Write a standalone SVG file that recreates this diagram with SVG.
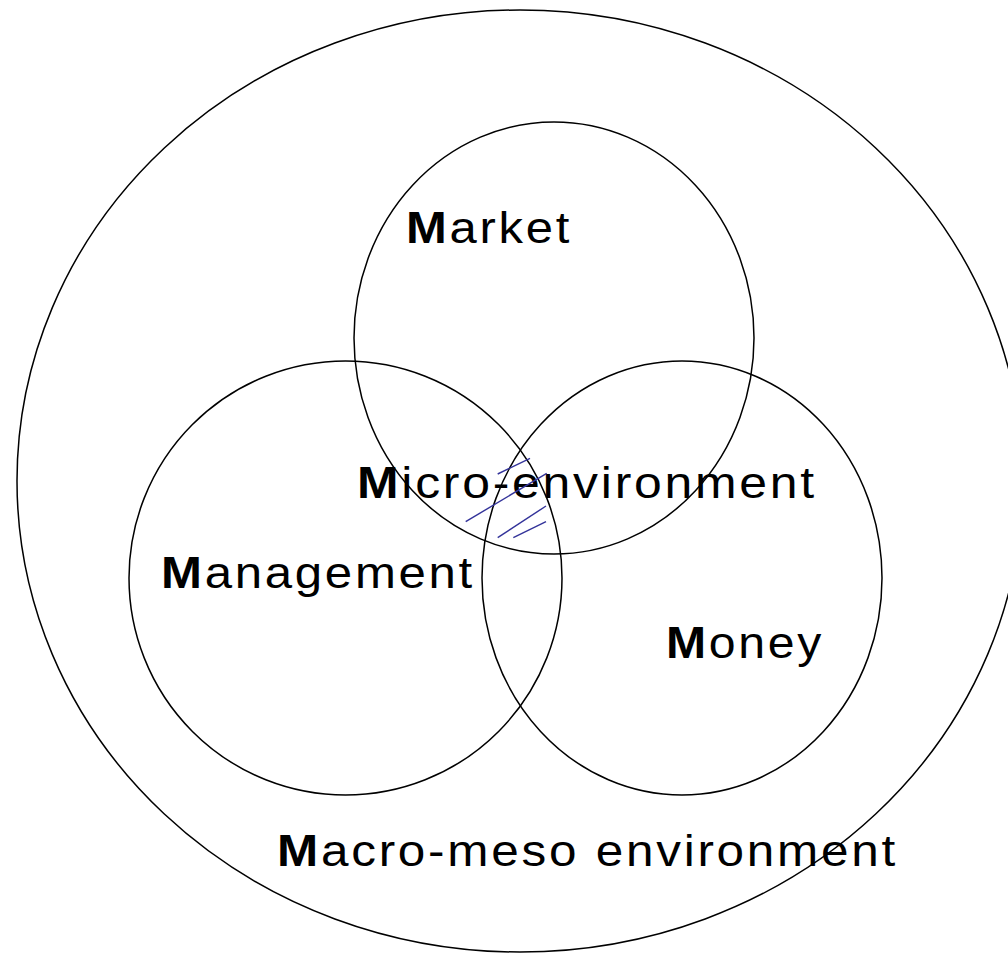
<svg xmlns="http://www.w3.org/2000/svg" width="1008" height="953" viewBox="0 0 1008 953">
<style>
.c{fill:none;stroke:#000;stroke-width:1.5}
.t{font-family:"Liberation Sans",Arial,sans-serif;font-size:45px;fill:#000;letter-spacing:2.5px}
.b{font-weight:bold}
.h{stroke:#33339a;stroke-width:1.4;fill:none}
</style>
<rect width="1008" height="953" fill="#fff"/>
<g id="macro">
<ellipse class="c" cx="520" cy="481" rx="503" ry="471"/>
<text class="t" x="277" y="866" textLength="621" lengthAdjust="spacingAndGlyphs"><tspan class="b">M</tspan>acro-meso environment</text>
</g>
<g id="market">
<ellipse class="c" cx="554" cy="338" rx="200" ry="216"/>
<text class="t" x="406" y="243" textLength="166" lengthAdjust="spacingAndGlyphs"><tspan class="b">M</tspan>arket</text>
</g>
<g id="management">
<ellipse class="c" cx="345.5" cy="578" rx="216.5" ry="217"/>
<text class="t" x="161" y="588" textLength="314" lengthAdjust="spacingAndGlyphs"><tspan class="b">M</tspan>anagement</text>
</g>
<g id="money">
<ellipse class="c" cx="682" cy="578" rx="200" ry="217"/>
<text class="t" x="666" y="658" textLength="158" lengthAdjust="spacingAndGlyphs"><tspan class="b">M</tspan>oney</text>
</g>
<g id="micro">
<text class="t" x="357" y="498" textLength="460" lengthAdjust="spacingAndGlyphs"><tspan class="b">M</tspan>icro-environment</text>
</g>
<g id="hatch">
<line class="h" x1="497.7" y1="474" x2="530" y2="458.3"/>
<line class="h" x1="465.7" y1="521.7" x2="546.7" y2="473.3"/>
<line class="h" x1="497.7" y1="537.7" x2="546" y2="506"/>
<line class="h" x1="513.3" y1="537.7" x2="546" y2="521.7"/>
</g>
</svg>
